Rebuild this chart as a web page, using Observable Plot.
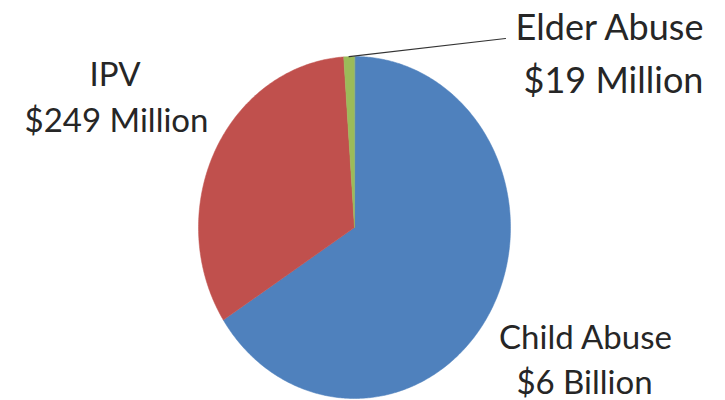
<!DOCTYPE html>
<html>
<head>
<meta charset="utf-8">
<script src="https://cdn.jsdelivr.net/npm/d3@7"></script>
<script src="https://cdn.jsdelivr.net/npm/@observablehq/plot@0.6"></script>
<style>
  html, body { margin: 0; padding: 0; background: #fff; }
  svg { display: block; }
</style>
</head>
<body>
<div id="chart"></div>
<script>
// ---- data ----
const categories = ["Child Abuse", "IPV", "Elder Abuse"];
const costLabels = ["$6 Billion", "$249 Million", "$19 Million"];
const sliceShares = [65.9, 33.0, 1.1];           // share of the pie as drawn (%)
const sliceColors = ["#4F81BD", "#C0504D", "#9BBB59"];

// ---- layout (unit-circle coordinates, ellipse via scales) ----
const PX = v => (v - 354) / 156;
const PY = v => (227 - v) / 171;
const labelLayout = {
  "Child Abuse": {x: [585, 584], y: [337.5, 383], size: 33},
  "IPV":         {x: [114.5, 116], y: [74.5, 120.5], size: 33},
  "Elder Abuse": {x: [609, 613], y: [27.5, 80.5], size: 36}
};

const table = categories.map((name, i) => ({name, cost: costLabels[i], share: sliceShares[i]}));
const arcs = d3.pie().sort(null).value(d => d.share).startAngle(0).endAngle(2 * Math.PI)(table);

// slice polygons
const polys = [];
arcs.forEach(a => {
  polys.push({name: a.data.name, x: 0, y: 0});
  const n = Math.max(4, Math.ceil((a.endAngle - a.startAngle) / 0.01));
  for (let k = 0; k <= n; k++) {
    const t = a.startAngle + (a.endAngle - a.startAngle) * k / n;
    polys.push({name: a.data.name, x: Math.sin(t), y: Math.cos(t)});
  }
});

// label rows
const labelRows = [];
table.forEach(d => {
  const L = labelLayout[d.name];
  labelRows.push({text: d.name, x: PX(L.x[0]), y: PY(L.y[0]), size: L.size});
  labelRows.push({text: d.cost, x: PX(L.x[1]), y: PY(L.y[1]), size: L.size});
});

// leader line for the small slice
const elder = arcs[2];
const mid = (elder.startAngle + elder.endAngle) / 2;
const leader = [
  {x: Math.sin(mid), y: Math.cos(mid)},
  {x: PX(505), y: PY(38)}
];

const chart = Plot.plot({
  width: 725,
  height: 400,
  margin: 0,
  x: {domain: [-1, 1], range: [198, 510], axis: null},
  y: {domain: [-1, 1], range: [398, 56], axis: null},
  color: {domain: categories, range: sliceColors},
  style: {background: "#fff"},
  marks: [
    Plot.line(polys, {x: "x", y: "y", z: "name", fill: "name", stroke: "name", strokeWidth: 0.5, curve: "linear-closed"}),
    Plot.line(leader, {x: "x", y: "y", stroke: "#333", strokeWidth: 1.2}),
    Plot.text(labelRows, {x: "x", y: "y", text: "text", fontSize: d => d.size, fontFamily: "Lato", fill: "#262626", textAnchor: "middle", lineAnchor: "middle"})
  ]
});
document.getElementById("chart").appendChild(chart);
</script>
</body>
</html>
